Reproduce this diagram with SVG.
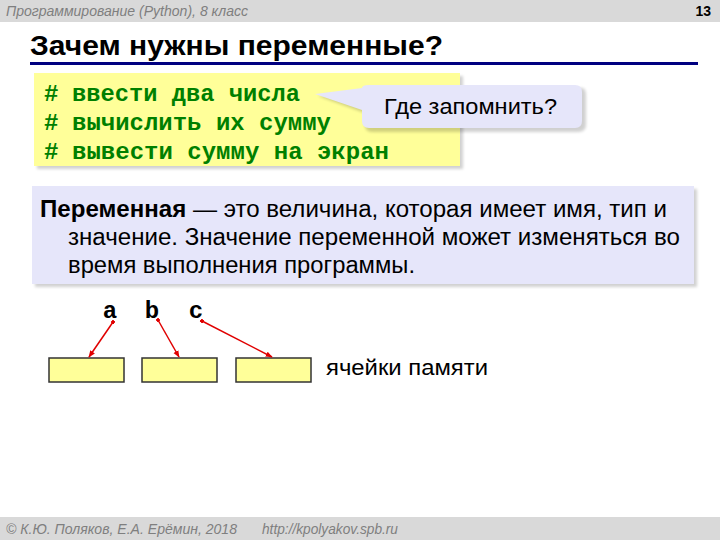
<svg xmlns="http://www.w3.org/2000/svg" width="720" height="540" viewBox="0 0 720 540">
<style>
.band{fill:#d9d9d9}
.hdr{font-family:"Liberation Sans",Arial,sans-serif;font-style:italic;font-size:14px;fill:#7f7f7f}
.title{font-family:"Liberation Sans Narrow","Liberation Sans",Arial,sans-serif;font-weight:bold;font-size:28px;fill:#000}
.code{font-family:"Liberation Mono","Courier New",monospace;font-weight:bold;font-size:24px;fill:#008000}
.def{font-family:"Liberation Sans Narrow","Liberation Sans",Arial,sans-serif;font-size:23px;fill:#000}
.var{font-family:"Liberation Mono","Courier New",monospace;font-weight:bold;font-size:24px;fill:#000}
.lbl{font-family:"Liberation Sans",Arial,sans-serif;font-size:22px;fill:#000}
.cell{fill:#ffff99;stroke:#333;stroke-width:1.5}
.arrow{stroke:#e00000;stroke-width:1.5;fill:none;marker-end:url(#ah);marker-start:url(#dot)}
.shadow{fill:#000;opacity:0.18}
</style>
<defs>
<marker id="ah" viewBox="0 0 10 10" refX="9" refY="5" markerWidth="7" markerHeight="7" orient="auto" markerUnits="userSpaceOnUse">
<path d="M0,1 L10,5 L0,9 z" fill="#e00000"/>
</marker>
<marker id="dot" viewBox="0 0 10 10" refX="5" refY="5" markerWidth="4" markerHeight="4" orient="auto" markerUnits="userSpaceOnUse">
<circle cx="5" cy="5" r="5" fill="#e00000"/>
</marker>
<filter id="blur" x="-10%" y="-10%" width="120%" height="130%"><feGaussianBlur stdDeviation="1.5"/></filter>
</defs>

<g id="header">
<rect class="band" x="0" y="0" width="720" height="22"/>
<text class="hdr" x="6" y="16" textLength="242" lengthAdjust="spacingAndGlyphs">Программирование (Python), 8 класс</text>
<text x="711" y="16" text-anchor="end" font-family="Liberation Sans, Arial, sans-serif" font-weight="bold" font-size="14" fill="#000">13</text>
</g>

<g id="title">
<text class="title" x="30" y="55" textLength="413" lengthAdjust="spacingAndGlyphs">Зачем нужны переменные?</text>
<rect x="30" y="62" width="668" height="3" fill="#000080"/>
</g>

<g id="code-box">
<rect class="shadow" x="37" y="76" width="426" height="93" filter="url(#blur)"/>
<rect x="34" y="73" width="426" height="93" fill="#ffff99"/>
<text class="code" x="44" y="101">#</text>
<text class="code" x="72" y="101" textLength="228" lengthAdjust="spacingAndGlyphs">ввести два числа</text>
<text class="code" x="44" y="130">#</text>
<text class="code" x="72" y="130" textLength="259" lengthAdjust="spacingAndGlyphs">вычислить их сумму</text>
<text class="code" x="44" y="159">#</text>
<text class="code" x="72" y="159" textLength="317" lengthAdjust="spacingAndGlyphs">вывести сумму на экран</text>
</g>

<g id="callout">
<path class="shadow" filter="url(#blur)" d="M372,88 H582 Q586,88 586,96 V125 Q586,132 578,132 H372 Q365,132 365,124 V113 L318,96 L365,91 Q366,88 372,88 z"/>
<path d="M369,85 H575 Q582,85 582,92 V121 Q582,128 575,128 H369 Q362,128 362,121 V110 L315,94 L362,88 Q362,85 369,85 z" fill="#e6e6fa"/>
<text class="lbl" x="384" y="114" font-size="23" textLength="173" lengthAdjust="spacingAndGlyphs">Где запомнить?</text>
</g>

<g id="definition">
<rect class="shadow" x="35" y="189" width="662" height="98" filter="url(#blur)"/>
<rect x="32" y="186" width="662" height="98" fill="#e6e6fa"/>
<text class="def" x="40" y="217" textLength="627" lengthAdjust="spacingAndGlyphs"><tspan font-weight="bold">Переменная</tspan> — это величина, которая имеет имя, тип и</text>
<text class="def" x="68" y="245" textLength="612" lengthAdjust="spacingAndGlyphs">значение. Значение переменной может изменяться во</text>
<text class="def" x="68" y="273" textLength="347" lengthAdjust="spacingAndGlyphs">время выполнения программы.</text>
</g>

<g id="var-a"><text class="var" x="110" y="318" text-anchor="middle">a</text></g>
<g id="var-b"><text class="var" x="152" y="318" text-anchor="middle">b</text></g>
<g id="var-c"><text class="var" x="196" y="318" text-anchor="middle">c</text></g>

<g id="cell-a"><rect class="cell" x="49" y="358" width="75" height="24"/></g>
<g id="cell-b"><rect class="cell" x="142" y="358" width="75" height="24"/></g>
<g id="cell-c"><rect class="cell" x="236" y="358" width="75" height="24"/></g>
<g id="cells-label"><text class="lbl" x="326" y="375" textLength="162" lengthAdjust="spacingAndGlyphs">ячейки памяти</text></g>

<g id="connectors">
<line class="arrow" x1="113" y1="322" x2="89" y2="357"/>
<line class="arrow" x1="158" y1="320" x2="179" y2="357"/>
<line class="arrow" x1="202" y1="321" x2="272" y2="357"/>
</g>

<g id="footer">
<rect class="band" x="0" y="517" width="720" height="23"/>
<text class="hdr" x="6" y="534" textLength="231" lengthAdjust="spacingAndGlyphs">© К.Ю. Поляков, Е.А. Ерёмин, 2018</text>
<text class="hdr" x="262" y="534" textLength="136" lengthAdjust="spacingAndGlyphs">http://kpolyakov.spb.ru</text>
</g>
</svg>
